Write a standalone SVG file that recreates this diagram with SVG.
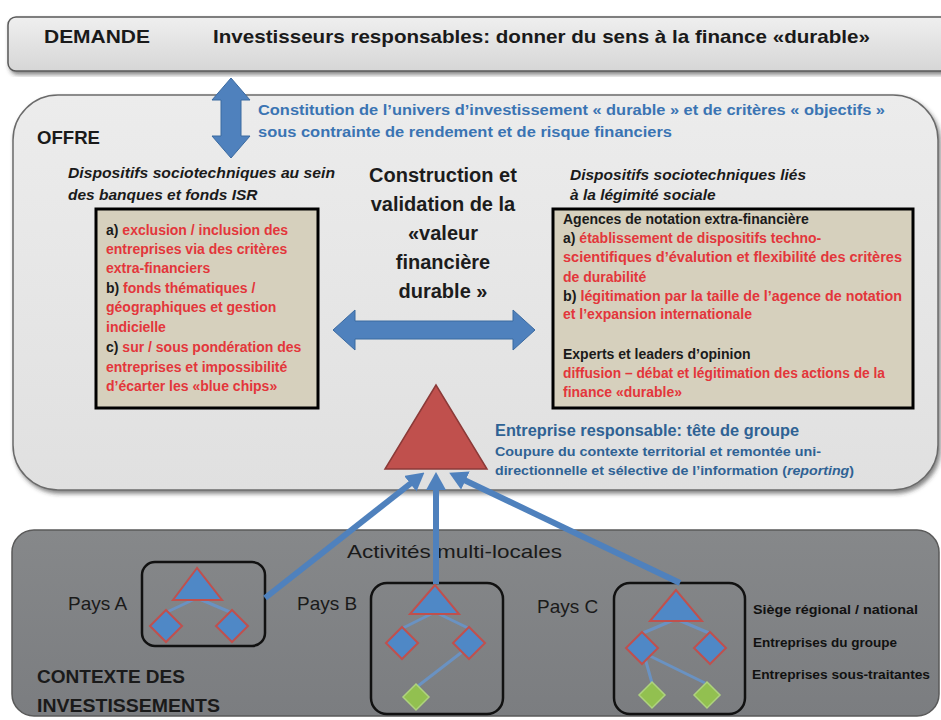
<svg xmlns="http://www.w3.org/2000/svg" width="941" height="720" viewBox="0 0 941 720">
<defs>
<style>
text{font-family:"Liberation Sans",Arial,sans-serif}
.b{font-weight:bold}
.i{font-style:italic}
.dk{fill:#1a1a1a}
.red{fill:#e3363b}
.blu{fill:#3a74b3}
.blu2{fill:#2f6294}
.bx{font-size:14px;font-weight:bold}
.ttl{font-size:15.5px;font-weight:bold;font-style:italic;fill:#1a1a1a}
.ctr{font-size:20px;font-weight:bold;fill:#1c1c1c;text-anchor:middle}
.pays{font-size:19px;fill:#1a1a1a}
.leg{font-size:13.5px;font-weight:bold;fill:#111}
.pbox{fill:none;stroke:#111;stroke-width:2.5}
.tri{fill:#4f88c6;stroke:#c0504d;stroke-width:2}
.dia{fill:#4f88c6;stroke:#c0504d;stroke-width:2}
.grn{fill:#92c050;stroke:#aed37e;stroke-width:1.5}
.lnk{stroke:#6a92c2;stroke-width:3;fill:none}
.dbl{fill:#4f81bd;stroke:#3b6aa0;stroke-width:1}
.conn{stroke:#4f81bd;stroke-width:6;fill:none;marker-end:url(#ah)}
</style>
<linearGradient id="gTop" x1="0" y1="0" x2="0" y2="1">
<stop offset="0" stop-color="#efefef"/><stop offset="1" stop-color="#d6d6d6"/>
</linearGradient>
<linearGradient id="gOff" x1="0" y1="0" x2="0" y2="1">
<stop offset="0" stop-color="#ececec"/><stop offset="1" stop-color="#e0e0e0"/>
</linearGradient>
<linearGradient id="gBot" x1="0" y1="0" x2="0" y2="1">
<stop offset="0" stop-color="#86888a"/><stop offset="1" stop-color="#7b7d80"/>
</linearGradient>
<filter id="sh" x="-5%" y="-5%" width="110%" height="115%">
<feDropShadow dx="2" dy="3" stdDeviation="2" flood-color="#333" flood-opacity="0.6"/>
</filter>
<marker id="ah" markerUnits="userSpaceOnUse" markerWidth="18" markerHeight="20" refX="6" refY="10" orient="auto">
<path d="M0,0 L18,10 L0,20 Z" fill="#4f81bd"/>
</marker>
</defs>

<rect width="941" height="720" fill="#ffffff"/>

<g id="demande">
<rect x="8" y="17" width="945" height="54" rx="8" fill="url(#gTop)" stroke="#5a5a5a" stroke-width="1.5" filter="url(#sh)"/>
<text x="44" y="43" class="b dk" font-size="18" textLength="106" lengthAdjust="spacingAndGlyphs">DEMANDE</text>
<text x="213" y="43" class="b dk" font-size="19" textLength="657" lengthAdjust="spacingAndGlyphs">Investisseurs responsables: donner du sens à la finance «durable»</text>
</g>

<g id="offre">
<rect x="13" y="95" width="925" height="395" rx="45" fill="url(#gOff)" stroke="#6b6b6b" stroke-width="1.5" filter="url(#sh)"/>
<text x="37" y="144" class="b dk" font-size="18" textLength="63" lengthAdjust="spacingAndGlyphs">OFFRE</text>
<text x="258" y="115" class="b blu" font-size="14.5" textLength="627" lengthAdjust="spacingAndGlyphs">Constitution de l’univers d’investissement « durable » et de critères « objectifs »</text>
<text x="258" y="137" class="b blu" font-size="14.5" textLength="414" lengthAdjust="spacingAndGlyphs">sous contrainte de rendement et de risque financiers</text>
</g>

<g id="dispositifs-banques">
<text x="68" y="178" class="ttl" textLength="267" lengthAdjust="spacingAndGlyphs">Dispositifs sociotechniques au sein</text>
<text x="68" y="200" class="ttl">des banques et fonds ISR</text>
<rect x="96" y="209" width="222" height="199" fill="#d6d0bd" stroke="#000" stroke-width="3"/>
<g class="bx">
<text x="106" y="235"><tspan class="dk">a) </tspan><tspan class="red">exclusion / inclusion des</tspan></text>
<text x="106" y="254" class="red">entreprises via des critères</text>
<text x="106" y="273" class="red">extra-financiers</text>
<text x="106" y="293"><tspan class="dk">b) </tspan><tspan class="red">fonds thématiques /</tspan></text>
<text x="106" y="312" class="red">géographiques et gestion</text>
<text x="106" y="332" class="red">indicielle</text>
<text x="106" y="352"><tspan class="dk">c) </tspan><tspan class="red">sur / sous pondération des</tspan></text>
<text x="106" y="372" class="red">entreprises et impossibilité</text>
<text x="106" y="391" class="red">d’écarter les «blue chips»</text>
</g>
</g>

<g id="construction">
<text x="443" y="182" class="ctr">Construction et</text>
<text x="443" y="211" class="ctr">validation de la</text>
<text x="443" y="240" class="ctr">«valeur</text>
<text x="443" y="269" class="ctr">financière</text>
<text x="443" y="298" class="ctr">durable »</text>
</g>

<g id="dispositifs-legitimite">
<text x="570" y="180" class="ttl">Dispositifs sociotechniques liés</text>
<text x="570" y="200" class="ttl">à la légimité sociale</text>
<rect x="553" y="209" width="360" height="199" fill="#d6d0bd" stroke="#000" stroke-width="3"/>
<g class="bx">
<text x="563" y="224" class="dk">Agences de notation extra-financière</text>
<text x="563" y="243"><tspan class="dk">a) </tspan><tspan class="red">établissement de dispositifs techno-</tspan></text>
<text x="563" y="262" class="red" textLength="339" lengthAdjust="spacingAndGlyphs">scientifiques d’évalution et flexibilité des critères</text>
<text x="563" y="282" class="red">de durabilité</text>
<text x="563" y="301" textLength="339" lengthAdjust="spacingAndGlyphs"><tspan class="dk">b) </tspan><tspan class="red">légitimation par la taille de l’agence de notation</tspan></text>
<text x="563" y="319" class="red">et l’expansion internationale</text>
<text x="563" y="359" class="dk">Experts et leaders d’opinion</text>
<text x="563" y="378" class="red" textLength="322" lengthAdjust="spacingAndGlyphs">diffusion – débat et légitimation des actions de la</text>
<text x="563" y="397" class="red">finance «durable»</text>
</g>
</g>

<g id="entreprise-responsable">
<polygon points="436,385 385,469 487,469" fill="#c0504d" stroke="#8c3a38" stroke-width="1.5"/>
<text x="495" y="436" class="b blu2" font-size="16.5" textLength="304" lengthAdjust="spacingAndGlyphs">Entreprise responsable: tête de groupe</text>
<text x="495" y="456" class="b blu2" font-size="13.5" textLength="326" lengthAdjust="spacingAndGlyphs">Coupure du contexte territorial et remontée uni-</text>
<text x="495" y="475" class="b blu2" font-size="13.5" textLength="359" lengthAdjust="spacingAndGlyphs">directionnelle et sélective de l’information (<tspan class="i">reporting</tspan>)</text>
</g>

<g id="contexte">
<rect x="12" y="530" width="927" height="186" rx="22" fill="url(#gBot)" stroke="#5a5a5a" stroke-width="1.5"/>
<text x="347" y="558" class="pays" textLength="215" lengthAdjust="spacingAndGlyphs">Activités multi-locales</text>
<text x="37" y="683" class="b dk" font-size="19" textLength="148" lengthAdjust="spacingAndGlyphs">CONTEXTE DES</text>
<text x="37" y="712" class="b dk" font-size="19" textLength="183" lengthAdjust="spacingAndGlyphs">INVESTISSEMENTS</text>
</g>

<g id="pays-a">
<text x="68" y="610" class="pays">Pays A</text>
<rect x="142" y="562" width="123" height="84" rx="13" class="pbox"/>
<path d="M197,598 L167,612 M197,598 L230,612" class="lnk"/>
<polygon points="197,568 173,600 222,600" class="tri"/>
<polygon points="166,610 182,626 166,642 150,626" class="dia"/>
<polygon points="232,610 248,626 232,642 216,626" class="dia"/>
</g>

<g id="pays-b">
<text x="297" y="610" class="pays">Pays B</text>
<rect x="371" y="583" width="132" height="131" rx="16" class="pbox"/>
<path d="M435,612 L403,628 M435,612 L468,628 M462,652 L418,686" class="lnk"/>
<polygon points="435,585 410,614 459,614" class="tri"/>
<polygon points="402,627 418,643 402,659 386,643" class="dia"/>
<polygon points="469,627 485,643 469,659 453,643" class="dia"/>
<polygon points="416,684 429,697 416,710 403,697" class="grn"/>
</g>

<g id="pays-c">
<text x="537" y="613" class="pays">Pays C</text>
<rect x="614" y="583" width="131" height="131" rx="16" class="pbox"/>
<path d="M676,619 L643,633 M676,619 L709,633 M645,658 L652,683 M650,656 L705,683" class="lnk"/>
<polygon points="676,590 650,621 702,621" class="tri"/>
<polygon points="642,632 658,648 642,664 626,648" class="dia"/>
<polygon points="710,632 726,648 710,664 694,648" class="dia"/>
<polygon points="652,682 665,695 652,708 639,695" class="grn"/>
<polygon points="707,682 720,695 707,708 694,695" class="grn"/>
</g>

<g id="legende">
<text x="753" y="614" class="leg" textLength="165" lengthAdjust="spacingAndGlyphs">Siège régional / national</text>
<text x="753" y="647" class="leg">Entreprises du groupe</text>
<text x="752" y="679" class="leg" textLength="178" lengthAdjust="spacingAndGlyphs">Entreprises sous-traitantes</text>
</g>

<g id="connectors">
<path class="dbl" d="M231,78 L250,100 L241,100 L241,136 L250,136 L231,158 L212,136 L221,136 L221,100 L212,100 Z"/>
<path class="dbl" d="M333,330 L355,310 L355,321 L513,321 L513,310 L535,330 L513,350 L513,339 L355,339 L355,350 Z"/>
<line class="conn" x1="265" y1="598" x2="415" y2="480"/>
<line class="conn" x1="436" y1="584" x2="436" y2="484"/>
<line class="conn" x1="680" y1="583" x2="460" y2="478"/>
</g>
</svg>
